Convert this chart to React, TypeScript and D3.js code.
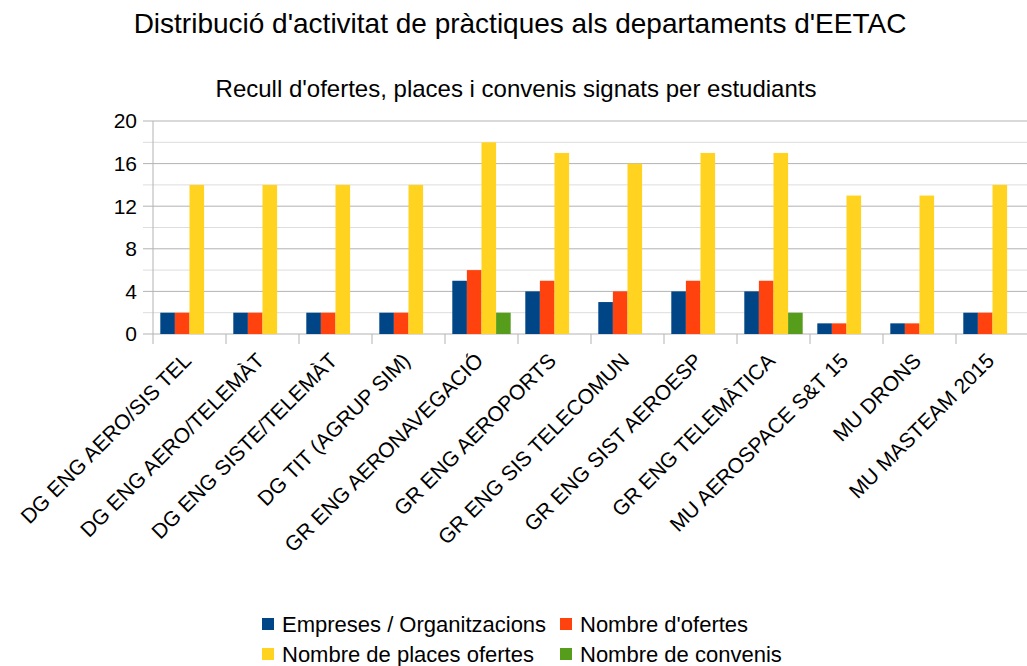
import React from 'react'
import { scaleBand, scaleLinear, range } from 'd3'

const width = 1027
const height = 666

const categories = [
  'DG ENG AERO/SIS TEL',
  'DG ENG AERO/TELEMÀT',
  'DG ENG SISTE/TELEMÀT',
  'DG TIT (AGRUP SIM)',
  'GR ENG AERONAVEGACIÓ',
  'GR ENG AEROPORTS',
  'GR ENG SIS TELECOMUN',
  'GR ENG SIST AEROESP',
  'GR ENG TELEMÀTICA',
  'MU AEROSPACE S&T 15',
  'MU DRONS',
  'MU MASTEAM 2015',
]
const empreses = [2, 2, 2, 2, 5, 4, 3, 4, 4, 1, 1, 2]
const ofertes = [2, 2, 2, 2, 6, 5, 4, 5, 5, 1, 1, 2]
const places = [14, 14, 14, 14, 18, 17, 16, 17, 17, 13, 13, 14]
const convenis = [0, 0, 0, 0, 2, 0, 0, 0, 2, 0, 0, 0]

const seriesNames = ['Empreses / Organitzacions', "Nombre d'ofertes", 'Nombre de places ofertes', 'Nombre de convenis']
const colors = ['#004586', '#ff420e', '#ffd320', '#579d1c']
const series = [empreses, ofertes, places, convenis]
const yTicks = [0, 4, 8, 12, 16, 20]

const font = '"Liberation Sans", Arial, sans-serif'

export default function App() {
  const x = scaleBand<string>().domain(categories).range([153, 1029])
  const inner = scaleBand<number>().domain(range(4)).range([0, x.bandwidth()]).paddingOuter(0.5)
  const y = scaleLinear().domain([0, 20]).range([334, 121])
  const minor = range(0, 21, 2)

  return (
    <svg width={width} height={height} style={{ position: 'absolute', left: 0, top: 0 }} fontFamily={font}>
      <rect width={width} height={height} fill="#fff" />
      <text x={520} y={33} textAnchor="middle" fontSize={28}>Distribució d'activitat de pràctiques als departaments d'EETAC</text>
      <text x={516} y={97} textAnchor="middle" fontSize={24}>Recull d'ofertes, places i convenis signats per estudiants</text>

      {minor.map(v => (
        <line key={v} x1={143} x2={1029} y1={y(v)} y2={y(v)} stroke={v % 4 === 0 ? '#b3b3b3' : '#dddddd'} strokeWidth={1} />
      ))}
      <line x1={153} x2={153} y1={y(20)} y2={y(0) + 10} stroke="#b3b3b3" />
      {categories.map(c => (
        <line key={c} x1={x(c)! + x.bandwidth()} x2={x(c)! + x.bandwidth()} y1={y(0)} y2={y(0) + 10} stroke="#b3b3b3" />
      ))}
      {yTicks.map(v => (
        <text key={v} x={137} y={y(v)} dy="0.35em" textAnchor="end" fontSize={21}>{v}</text>
      ))}

      {categories.map((c, i) => (
        <g key={c}>
          {series.map((s, k) => s[i] > 0 && (
            <rect key={k} x={x(c)! + inner(k)!} y={y(s[i])} width={inner.bandwidth()} height={y(0) - y(s[i])} fill={colors[k]} />
          ))}
        </g>
      ))}

      {categories.map(c => (
        <text key={c} transform={`translate(${x(c)! + x.bandwidth() / 2 + 3},${362}) rotate(-45)`} textAnchor="end" fontSize={21}>{c}</text>
      ))}

      {seriesNames.map((n, k) => {
        const col = k % 2
        const row = Math.floor(k / 2)
        const lx = col === 0 ? 262 : 560
        const ly = 618 + row * 30
        return (
          <g key={n}>
            <rect x={lx} y={ly} width={12} height={12} fill={colors[k]} />
            <text x={lx + 20} y={ly + 6} dy="0.35em" fontSize={22}>{n}</text>
          </g>
        )
      })}
    </svg>
  )
}
